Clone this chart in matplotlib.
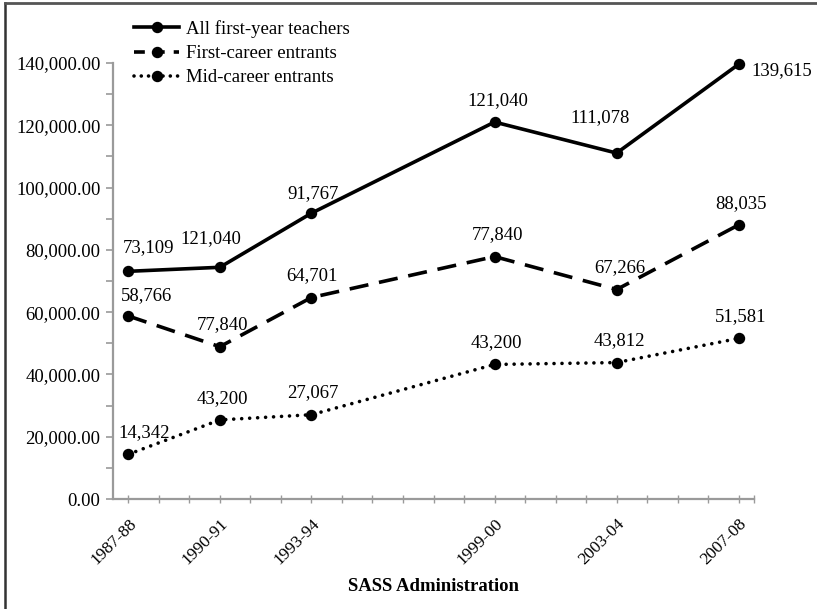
import matplotlib
matplotlib.use("Agg")
import matplotlib.pyplot as plt
from matplotlib.ticker import FuncFormatter, MultipleLocator
from matplotlib.lines import Line2D

# SASS administrations (plotted at the first calendar year of each)
admin_labels = ["1987-88", "1990-91", "1993-94", "1999-00", "2003-04", "2007-08"]
admin_years = [1987, 1990, 1993, 1999, 2003, 2007]

# Number of first-year teachers by entry path
all_first_year = [73109, 74400, 91767, 121040, 111078, 139615]
first_career = [58766, 48900, 64701, 77840, 67266, 88035]
mid_career = [14342, 25400, 27067, 43200, 43812, 51581]

# Data label text as printed for each point
all_first_year_text = ["73,109", "121,040", "91,767", "121,040", "111,078", "139,615"]
first_career_text = ["58,766", "77,840", "64,701", "77,840", "67,266", "88,035"]
mid_career_text = ["14,342", "43,200", "27,067", "43,200", "43,812", "51,581"]

series_names = ["All first-year teachers", "First-career entrants", "Mid-career entrants"]

plt.rcParams["font.family"] = ["Liberation Serif", "DejaVu Serif"]
FS = 13.5

fig = plt.figure(figsize=(8.17, 6.09), dpi=100)
ax = fig.add_axes([113 / 817, 1 - 499 / 609, (754 - 113) / 817, (499 - 63) / 609])

lw = 2.6
ms = 7.2
ax.plot(admin_years, all_first_year, color="black", lw=lw, marker="o", ms=ms,
        linestyle="-", solid_capstyle="butt", clip_on=False)
ax.plot(admin_years, first_career, color="black", lw=lw, marker="o", ms=ms,
        linestyle=(0, (5.3, 3.0)), dash_capstyle="butt", clip_on=False)
ax.plot(admin_years, mid_career, color="black", lw=lw, marker="o", ms=ms,
        linestyle=(0, (0.01, 2.2)), dash_capstyle="round", clip_on=False)

# label offsets in pixels relative to each point
all_off = [(20, 24), (-9, 29), (2, 20), (3, 21), (-17, 35), (43, -6)]
fc_off = [(18, 20), (3, 22), (1, 22), (3, 22), (3, 22), (2, 21)]
mid_off = [(16, 22), (3, 21), (1, 22), (2, 22), (3, 22), (2, 22)]

for vals, texts, offs in [(all_first_year, all_first_year_text, all_off),
                          (first_career, first_career_text, fc_off),
                          (mid_career, mid_career_text, mid_off)]:
    for x, y, t, o in zip(admin_years, vals, texts, offs):
        ax.annotate(t, (x, y), xytext=o, textcoords="offset pixels",
                    ha="center", va="center", fontsize=FS)

ax.set_xlim(1986.5, 2007.5)
ax.set_ylim(0, 140000)

ax.yaxis.set_major_locator(MultipleLocator(20000))
ax.yaxis.set_minor_locator(MultipleLocator(10000))
ax.yaxis.set_major_formatter(FuncFormatter(lambda v, p: f"{v:,.2f}"))

ax.set_xticks(admin_years)
ax.set_xticklabels(admin_labels, rotation=45, ha="right", va="top",
                   rotation_mode="anchor", fontsize=12.5)
ax.set_xticks(list(range(1987, 2008)) + [2007.5], minor=True)

axis_gray = "#9a9a9a"
for side in ["top", "right"]:
    ax.spines[side].set_visible(False)
for side in ["left", "bottom"]:
    ax.spines[side].set_color(axis_gray)
    ax.spines[side].set_linewidth(1.6)

ax.tick_params(axis="y", which="both", direction="out", length=5, width=1.2,
               color=axis_gray, labelsize=FS, pad=4)
ax.tick_params(axis="x", which="both", direction="inout", length=6, width=1.0,
               color=axis_gray, pad=9)

ax.set_xlabel("SASS Administration", fontsize=FS, fontweight="bold", labelpad=7)

handles = [
    Line2D([], [], color="black", lw=lw, marker="o", ms=ms, linestyle="-"),
    Line2D([], [], color="black", lw=lw, marker="o", ms=ms, linestyle=(0, (3.0, 2.5))),
    Line2D([], [], color="black", lw=lw, marker="o", ms=ms, linestyle=(0, (0.01, 2.0)),
           dash_capstyle="round"),
]
fig.legend(handles, series_names, loc="upper left",
           bbox_to_anchor=(121 / 817, 1 - 7 / 609), frameon=False, fontsize=FS,
           handlelength=2.4, handletextpad=0.35, labelspacing=0.38, borderpad=0.2)

# frame lines along the left and top edges
fig.add_artist(Line2D([5 / 817, 5 / 817], [0, 1 - 2.5 / 609], color="#333333", lw=1.8,
                      transform=fig.transFigure))
fig.add_artist(Line2D([5 / 817, 1], [1 - 2.5 / 609, 1 - 2.5 / 609], color="#555555", lw=2.0,
                      transform=fig.transFigure))

fig.savefig("out.png", dpi=100)
